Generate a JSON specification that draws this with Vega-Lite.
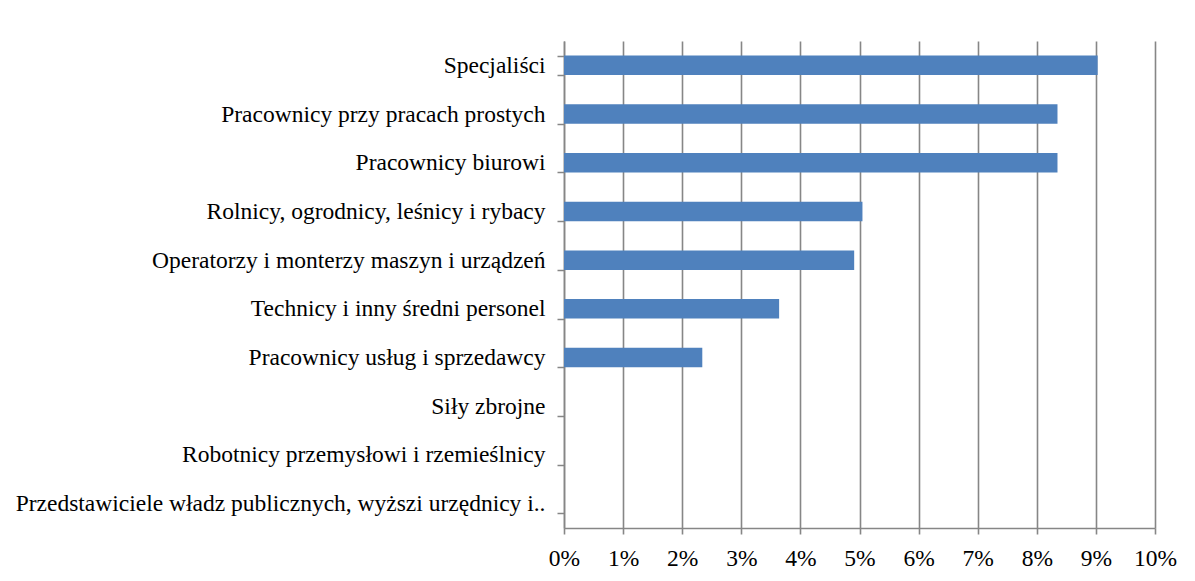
{
  "$schema": "https://vega.github.io/schema/vega-lite/v6.json",
  "autosize": "none",
  "width": 591,
  "height": 487,
  "padding": {"left": 564, "top": 41, "right": 40, "bottom": 53},
  "background": "white",
  "config": {
    "view": {"stroke": null},
    "font": "Liberation Serif"
  },
  "data": {
    "values": [
      {"kategoria": "Specjaliści", "udzial": 0.0903},
      {"kategoria": "Pracownicy przy pracach prostych", "udzial": 0.0835},
      {"kategoria": "Pracownicy biurowi", "udzial": 0.0835},
      {"kategoria": "Rolnicy, ogrodnicy, leśnicy i rybacy", "udzial": 0.0505},
      {"kategoria": "Operatorzy i monterzy maszyn i urządzeń", "udzial": 0.0491},
      {"kategoria": "Technicy i inny średni personel", "udzial": 0.0364},
      {"kategoria": "Pracownicy usług i sprzedawcy", "udzial": 0.0234},
      {"kategoria": "Siły zbrojne", "udzial": 0},
      {"kategoria": "Robotnicy przemysłowi i rzemieślnicy", "udzial": 0},
      {"kategoria": "Przedstawiciele władz publicznych, wyższi urzędnicy i..", "udzial": 0}
    ]
  },
  "mark": {"type": "bar", "color": "#4f81bd"},
  "encoding": {
    "y": {
      "field": "kategoria",
      "type": "nominal",
      "sort": null,
      "title": null,
      "scale": {"paddingInner": 0.6, "paddingOuter": 0.3},
      "axis": {
        "tickBand": "extent",
        "tickSize": 7,
        "tickColor": "#868686",
        "tickWidth": 1.5,
        "domainColor": "#868686",
        "domainWidth": 1.5,
        "labelFont": "Liberation Serif",
        "labelFontSize": 23.5,
        "labelColor": "#000000",
        "labelPadding": 12,
        "labelLimit": 600
      }
    },
    "x": {
      "field": "udzial",
      "type": "quantitative",
      "title": null,
      "scale": {"domain": [0, 0.1], "nice": false},
      "axis": {
        "values": [0, 0.01, 0.02, 0.03, 0.04, 0.05, 0.06, 0.07, 0.08, 0.09, 0.1],
        "format": ".0%",
        "grid": true,
        "gridColor": "#868686",
        "gridWidth": 1.6,
        "tickSize": 6,
        "tickColor": "#868686",
        "tickWidth": 1.6,
        "domainColor": "#868686",
        "domainWidth": 1.6,
        "labelFont": "Liberation Serif",
        "labelFontSize": 23.5,
        "labelColor": "#000000",
        "labelPadding": 12,
        "labelFlush": false
      }
    }
  }
}
